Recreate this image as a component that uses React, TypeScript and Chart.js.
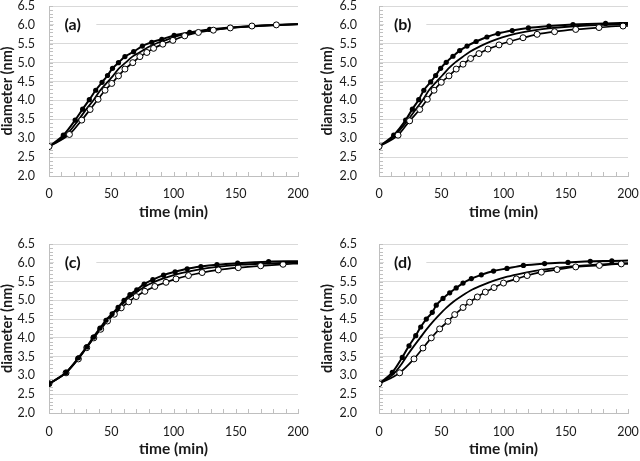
import React, { useEffect, useRef } from "react";
import { Chart, registerables } from "chart.js";
Chart.register(...registerables);

const xTicks = [0, 50, 100, 150, 200];
const yTicks = [2.0, 2.5, 3.0, 3.5, 4.0, 4.5, 5.0, 5.5, 6.0, 6.5];
const panelLabels = ["(a)", "(b)", "(c)", "(d)"];
const xTitle = "time (min)";
const yTitle = "diameter (nm)";

// Panel (a)
const aFilledT = [0, 11.5, 21, 27, 32.4, 37.5, 42.6, 47, 51, 55.8, 61, 68, 75, 82.5, 90.6, 100.5, 113, 129, 145.6, 163, 182.6, 200];
const aFilledD = [2.78, 3.08, 3.48, 3.77, 4.02, 4.27, 4.48, 4.66, 4.85, 5.0, 5.16, 5.29, 5.44, 5.54, 5.62, 5.72, 5.8, 5.88, 5.93, 5.97, 6.0, 6.02];
const aMidT = [0, 14, 23.6, 30, 36, 41.2, 46.5, 51.4, 56, 61.5, 67, 73.3, 79.5, 87, 95, 105, 116.5, 130.5, 150, 175, 200];
const aMidD = [2.78, 3.09, 3.48, 3.77, 4.02, 4.27, 4.47, 4.65, 4.84, 5.0, 5.16, 5.28, 5.41, 5.52, 5.61, 5.72, 5.8, 5.87, 5.93, 5.98, 6.02];
const aOpenT = [0, 16.4, 26.3, 33, 39.4, 45, 50.4, 55.8, 61, 67.3, 73, 78.6, 84, 91.4, 99.5, 109, 120, 132, 145.6, 163, 182.6, 200];
const aOpenD = [2.78, 3.1, 3.48, 3.76, 4.03, 4.27, 4.45, 4.65, 4.83, 5.0, 5.16, 5.27, 5.38, 5.49, 5.59, 5.71, 5.8, 5.86, 5.92, 5.97, 6.0, 6.02];

// Panel (b)
const bFilledT = [0, 11.8, 21.4, 26.8, 31.9, 36, 41.5, 45.5, 49.5, 54, 59.4, 64.8, 70.7, 78, 86.7, 95.6, 107, 120, 136.5, 155.8, 182, 200];
const bFilledD = [2.78, 3.08, 3.48, 3.77, 4.02, 4.27, 4.49, 4.66, 4.85, 5.01, 5.17, 5.32, 5.44, 5.56, 5.68, 5.77, 5.85, 5.92, 5.97, 6.01, 6.04, 6.05];
const bMidT = [0, 13, 23, 29.7, 35.3, 40.1, 45.7, 50.8, 55.7, 61, 67, 73, 81, 89, 99, 110, 123, 140, 160, 180, 200];
const bMidD = [2.78, 3.08, 3.47, 3.77, 4.02, 4.27, 4.48, 4.66, 4.84, 5.0, 5.15, 5.29, 5.43, 5.55, 5.67, 5.77, 5.85, 5.92, 5.97, 6.0, 6.01];
const bOpenT = [0, 15.3, 24.6, 32.7, 38.8, 44.2, 50, 56.2, 62, 67.5, 73.6, 80.3, 87.5, 96.4, 105, 115.7, 127, 141, 158, 176.7, 196, 200];
const bOpenD = [2.78, 3.08, 3.46, 3.76, 4.03, 4.27, 4.48, 4.65, 4.83, 4.96, 5.11, 5.24, 5.36, 5.47, 5.56, 5.66, 5.75, 5.82, 5.88, 5.93, 5.97, 5.97];

// Panel (c)
const cFilledT = [0, 13.7, 23.6, 30.3, 35.7, 41, 45.8, 50.7, 55.5, 60.3, 65, 70.5, 76.4, 83.4, 92, 101.3, 111, 122, 134.9, 151.5, 176.4, 200];
const cFilledD = [2.78, 3.08, 3.47, 3.76, 4.02, 4.26, 4.47, 4.64, 4.81, 5.0, 5.15, 5.28, 5.43, 5.55, 5.67, 5.76, 5.84, 5.9, 5.95, 5.99, 6.03, 6.04];
const cMidT = [0, 13.7, 23.6, 30.3, 36, 41.3, 46.5, 51.5, 56.5, 61.5, 67, 73, 80, 88, 97, 107, 120, 135, 155, 175, 200];
const cMidD = [2.78, 3.08, 3.46, 3.75, 4.01, 4.25, 4.47, 4.64, 4.81, 4.98, 5.14, 5.28, 5.42, 5.54, 5.64, 5.73, 5.82, 5.89, 5.95, 5.98, 6.01];
const cOpenT = [0, 13.7, 23.6, 30.3, 36, 41.5, 47, 52.5, 58, 64, 70, 77, 85, 94, 102, 112, 123, 136, 152, 170, 188, 200];
const cOpenD = [2.78, 3.07, 3.44, 3.74, 4.0, 4.23, 4.45, 4.63, 4.8, 4.96, 5.1, 5.24, 5.37, 5.48, 5.57, 5.66, 5.74, 5.81, 5.87, 5.92, 5.96, 5.98];

// Panel (d)
const dFilledT = [0, 10.7, 18.7, 24.1, 29.5, 33.5, 38, 42.8, 46, 51.4, 56.8, 62, 67.5, 74.2, 82.2, 92, 102.8, 116, 133, 151.8, 169.7, 187, 200];
const dFilledD = [2.78, 3.08, 3.48, 3.79, 4.06, 4.29, 4.5, 4.68, 4.87, 5.05, 5.2, 5.33, 5.46, 5.58, 5.68, 5.78, 5.85, 5.93, 5.98, 6.01, 6.04, 6.05, 6.06];
const dMidT = [0, 12, 18, 23, 28, 33, 38, 43, 48, 54, 60, 67, 75, 84, 93, 103, 115, 128, 145, 165, 185, 200];
const dMidD = [2.78, 3.05, 3.3, 3.55, 3.78, 4.0, 4.22, 4.42, 4.6, 4.8, 4.97, 5.13, 5.29, 5.42, 5.53, 5.63, 5.72, 5.8, 5.87, 5.93, 5.97, 5.99];
const dOpenT = [0, 16.6, 28.1, 35.3, 42, 48.7, 55.4, 60.8, 67.5, 72.8, 79, 85.4, 92.4, 100, 110.3, 119, 130.4, 143, 158, 177, 194.6, 200];
const dOpenD = [2.78, 3.07, 3.44, 3.73, 4.0, 4.24, 4.44, 4.62, 4.81, 4.95, 5.09, 5.22, 5.34, 5.46, 5.57, 5.66, 5.75, 5.82, 5.89, 5.93, 5.97, 5.97];

const FONT = "Lato, 'Noto Sans', sans-serif";
const AXIS_GRAY = "#bfbfbf";
const GRID_GRAY = "#d9d9d9";

const toXY = (t: number[], d: number[]) => t.map((v, i) => ({ x: v, y: d[i] }));

type PanelSpec = {
  label: string;
  left: number;
  top: number;
  width: number;
  height: number;
  yWidth: number;
  padRight: number;
  xHeight: number;
  xTickPad: number;
  xTitlePad: number;
  yTickPad: number;
  filledOnTop: boolean;
  filled: [number[], number[]];
  mid: [number[], number[]];
  open: [number[], number[]];
};

const panels: PanelSpec[] = [
  { label: panelLabels[0], left: 0, top: 0, width: 320, height: 230, yWidth: 49, padRight: 22, xHeight: 54, xTickPad: 12, xTitlePad: 10, yTickPad: 14, filledOnTop: false, filled: [aFilledT, aFilledD], mid: [aMidT, aMidD], open: [aOpenT, aOpenD] },
  { label: panelLabels[1], left: 320, top: 0, width: 320, height: 230, yWidth: 59, padRight: 12, xHeight: 54, xTickPad: 12, xTitlePad: 10, yTickPad: 22, filledOnTop: false, filled: [bFilledT, bFilledD], mid: [bMidT, bMidD], open: [bOpenT, bOpenD] },
  { label: panelLabels[2], left: 0, top: 238, width: 320, height: 223, yWidth: 49, padRight: 22, xHeight: 48, xTickPad: 13, xTitlePad: 4, yTickPad: 14, filledOnTop: true, filled: [cFilledT, cFilledD], mid: [cMidT, cMidD], open: [cOpenT, cOpenD] },
  { label: panelLabels[3], left: 320, top: 238, width: 320, height: 223, yWidth: 59, padRight: 12, xHeight: 48, xTickPad: 13, xTitlePad: 4, yTickPad: 22, filledOnTop: false, filled: [dFilledT, dFilledD], mid: [dMidT, dMidD], open: [dOpenT, dOpenD] },
];

const decorPlugin = {
  id: "decor",
  beforeDatasetsDraw(chart: any, _args: any, opts: any) {
    const { ctx, chartArea, scales } = chart;
    const x = scales.x;
    const y = scales.y;
    ctx.save();
    ctx.strokeStyle = AXIS_GRAY;
    ctx.lineWidth = 1;
    ctx.beginPath();
    for (let v = x.min; v <= x.max + 1e-6; v += 10) {
      const px = Math.round(x.getPixelForValue(v)) + 0.5;
      ctx.moveTo(px, chartArea.bottom);
      ctx.lineTo(px, chartArea.bottom - 4);
    }
    for (let i = 0; i <= Math.round((y.max - y.min) / 0.1); i++) {
      const py = Math.round(y.getPixelForValue(y.min + i * 0.1)) + 0.5;
      ctx.moveTo(chartArea.left, py);
      ctx.lineTo(chartArea.left + 4, py);
    }
    ctx.stroke();
    const y6 = y.getPixelForValue(6.0);
    ctx.fillStyle = "#ffffff";
    ctx.fillRect(chartArea.left + 5, y6 - 9, x.getPixelForValue(38) - chartArea.left - 5, 18);
    ctx.fillStyle = "#111";
    ctx.font = `bold 16px ${FONT}`;
    ctx.textAlign = "center";
    ctx.textBaseline = "middle";
    ctx.fillText(opts.label, x.getPixelForValue(19), y6);
    ctx.restore();
  },
};

function Panel({ spec }: { spec: PanelSpec }) {
  const ref = useRef<HTMLCanvasElement | null>(null);
  useEffect(() => {
    if (!ref.current) return;
    const marked = (t: number[], r: number) => (ctx: any) => (ctx.dataIndex === t.length - 1 ? 0 : r);
    const chart = new Chart(ref.current, {
      type: "line",
      data: {
        datasets: [
          {
            data: toXY(spec.open[0], spec.open[1]),
            order: spec.filledOnTop ? 1 : 0,
            borderColor: "#000",
            borderWidth: 1.7,
            pointRadius: marked(spec.open[0], 3),
            pointBackgroundColor: "#fff",
            pointBorderColor: "#000",
            pointBorderWidth: 1,
            cubicInterpolationMode: "monotone",
          },
          {
            data: toXY(spec.filled[0], spec.filled[1]),
            order: spec.filledOnTop ? 0 : 1,
            borderColor: "#000",
            borderWidth: 2,
            pointRadius: marked(spec.filled[0], 2.6),
            pointBackgroundColor: "#000",
            pointBorderColor: "#000",
            pointBorderWidth: 0,
            cubicInterpolationMode: "monotone",
          },
          {
            data: toXY(spec.mid[0], spec.mid[1]),
            order: 2,
            borderColor: "#000",
            borderWidth: 1.8,
            pointRadius: 0,
            cubicInterpolationMode: "monotone",
          },
        ],
      },
      options: {
        animation: false,
        responsive: false,
        layout: { padding: { left: 0, top: 6, right: spec.padRight, bottom: 0 } },
        plugins: {
          legend: { display: false },
          tooltip: { enabled: false },
          decor: { label: spec.label },
        } as any,
        scales: {
          x: {
            type: "linear",
            min: 0,
            max: 200,
            afterBuildTicks: (s: any) => {
              s.ticks = xTicks.map((v) => ({ value: v }));
            },
            afterFit: (s: any) => {
              s.height = spec.xHeight;
              s.paddingLeft = 0;
              s.paddingRight = 0;
            },
            ticks: {
              autoSkip: false,
              maxRotation: 0,
              padding: spec.xTickPad,
              color: "#1a1a1a",
              font: { family: FONT, size: 12.5, lineHeight: 1 },
            },
            grid: { display: false, drawTicks: false },
            border: { display: true, color: AXIS_GRAY, width: 1 },
            title: {
              display: true,
              text: xTitle,
              color: "#1a1a1a",
              font: { family: FONT, size: 15.5, weight: "bold", lineHeight: 1 },
              padding: { top: 0, bottom: spec.xTitlePad },
            },
          },
          y: {
            type: "linear",
            min: 2,
            max: 6.5,
            afterBuildTicks: (s: any) => {
              s.ticks = yTicks.map((v) => ({ value: v }));
            },
            afterFit: (s: any) => {
              s.width = spec.yWidth;
              s.paddingTop = 0;
              s.paddingBottom = 0;
            },
            ticks: {
              autoSkip: false,
              padding: spec.yTickPad,
              color: "#1a1a1a",
              font: { family: FONT, size: 12.5, lineHeight: 1 },
              callback: (v: any) => Number(v).toFixed(1),
            },
            grid: { color: GRID_GRAY, lineWidth: 1, drawTicks: false },
            border: { display: true, color: AXIS_GRAY, width: 1 },
            title: {
              display: true,
              text: yTitle,
              color: "#1a1a1a",
              font: { family: FONT, size: 14.5, weight: "bold", lineHeight: 1 },
              padding: { top: 0, bottom: 0 },
            },
          },
        },
      },
      plugins: [decorPlugin],
    } as any);
    return () => chart.destroy();
  }, [spec]);
  return (
    <canvas
      ref={ref}
      width={spec.width}
      height={spec.height}
      style={{ position: "absolute", left: spec.left, top: spec.top, width: spec.width, height: spec.height, display: "block" }}
    />
  );
}

export default function App() {
  return (
    <div style={{ position: "fixed", left: 0, top: 0, width: 640, height: 461, overflow: "hidden", background: "#fff" }}>
      {panels.map((p) => (
        <Panel key={p.label} spec={p} />
      ))}
    </div>
  );
}
